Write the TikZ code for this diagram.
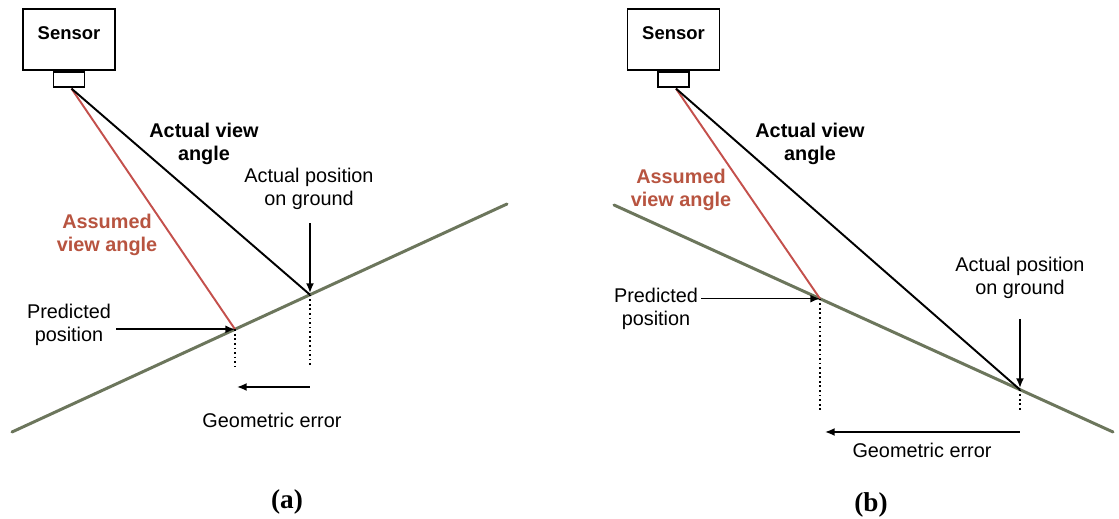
\documentclass[tikz,border=0pt]{standalone}
\usepackage{fontspec}
\setmainfont{Liberation Sans}
\newfontfamily\capfont{Liberation Serif}
\usetikzlibrary{arrows.meta,calc}
\definecolor{viewred}{RGB}{196,80,76}
\definecolor{labelred}{RGB}{184,84,64}
\definecolor{groundgreen}{RGB}{108,118,92}
\begin{document}
\begin{tikzpicture}[x=0.02cm,y=-0.02cm,
  sensorbox/.style={draw,line width=1pt,inner sep=0pt,minimum width=1.84cm,minimum height=1.22cm},
  lensbox/.style={draw,line width=1pt,inner sep=0pt,minimum width=0.62cm,minimum height=0.30cm,anchor=north},
  sensortext/.style={font=\fontsize{10.5}{12}\selectfont\bfseries,inner sep=0pt},
  lbl/.style={font=\fontsize{11.3}{12.8}\selectfont,align=center,inner sep=0pt},
  boldlbl/.style={lbl,font=\fontsize{11.3}{13.5}\selectfont\bfseries},
  redlbl/.style={boldlbl,text=labelred},
  caption/.style={font=\fontsize{15.5}{18}\selectfont\capfont\bfseries,inner sep=0pt},
  ground/.style={groundgreen,line width=1.7pt,line cap=round},
  actualray/.style={black,line width=1.1pt},
  assumedray/.style={viewred,line width=1.1pt},
  ptr/.style={black,line width=0.9pt,-{Latex[length=5.5pt,width=4.5pt]}},
  dotline/.style={black,line width=1pt,dash pattern=on 1pt off 1.6pt}]
\useasboundingbox (0,0) rectangle (1119,519);
\fill[white] (0,0) rectangle (1119,519);

% ---------------- panel (a): ground rising to the right ----------------
\coordinate (gA1) at (12,432);
\coordinate (gA2) at (507,204);
\coordinate (pA) at ($(gA1)!0.4505!(gA2)$);
\coordinate (qA) at ($(gA1)!0.602!(gA2)$);
\coordinate (dotendA) at (0,367);
\coordinate (errlineA) at (0,387);

\node[sensorbox] (senA) at (69,39.5) {};
\node[sensortext] (senAtxt) at ($(senA.center)+(0,-6)$) {Sensor};
\node[lensbox] (lensA) at (senA.south) {};
\coordinate (eyeA) at ($(lensA.south)+(2.5,1)$);

\draw[ground] (gA1) -- (gA2);
\draw[assumedray] (eyeA) -- (pA);
\draw[actualray] (eyeA) -- (qA);

\node[boldlbl] (actviewA) at (204,144) {Actual view\\angle};
\node[redlbl] (assA) at (107,235) {Assumed\\view angle};
\node[lbl] (actlblA) at (309,189) {Actual position\\on ground};
\node[lbl] (predlblA) at (69,325) {Predicted\\position};
\node[lbl] (errlblA) at (272,420) {Geometric error};
\node[caption] (capA) at (287,502) {(a)};

\draw[ptr] ([xshift=0.1cm]predlblA.east |- pA) -- (pA);
\draw[ptr,shorten >=1pt] ([yshift=-0.27cm]qA |- actlblA.south) -- (qA);
\draw[dotline] (pA) -- (pA |- dotendA);
\draw[dotline] (qA) -- (qA |- dotendA);
\draw[ptr] (qA |- errlineA) -- ([xshift=0.04cm]pA |- errlineA);

% ---------------- panel (b): ground falling to the right ----------------
\coordinate (gB1) at (614,205);
\coordinate (gB2) at (1113,432);
\coordinate (pB) at ($(gB1)!0.4128!(gB2)$);
\coordinate (qB) at ($(gB1)!0.8136!(gB2)$);
\coordinate (dotendB) at (0,412);
\coordinate (errlineB) at (0,432);

\node[sensorbox] (senB) at (673.5,39.5) {};
\node[sensortext] (senBtxt) at ($(senB.center)+(0,-6)$) {Sensor};
\node[lensbox] (lensB) at (senB.south) {};
\coordinate (eyeB) at ($(lensB.south)+(2.5,1)$);

\draw[ground] (gB1) -- (gB2);
\draw[assumedray] (eyeB) -- (pB);
\draw[actualray] (eyeB) -- (qB);

\node[boldlbl] (actviewB) at (810,144) {Actual view\\angle};
\node[redlbl] (assB) at (681,190) {Assumed\\view angle};
\node[lbl] (actlblB) at (1020,278) {Actual position\\on ground};
\node[lbl] (predlblB) at (656,309) {Predicted\\position};
\node[lbl] (errlblB) at (922,450) {Geometric error};
\node[caption] (capB) at (871,505) {(b)};

\draw[ptr] ([xshift=0.06cm]predlblB.east |- pB) -- (pB);
\draw[ptr,shorten >=1pt] ([yshift=-0.4cm]qB |- actlblB.south) -- (qB);
\draw[dotline] (pB) -- (pB |- dotendB);
\draw[dotline] (qB) -- (qB |- dotendB);
\draw[ptr] (qB |- errlineB) -- ([xshift=0.1cm]pB |- errlineB);
\end{tikzpicture}
\end{document}
